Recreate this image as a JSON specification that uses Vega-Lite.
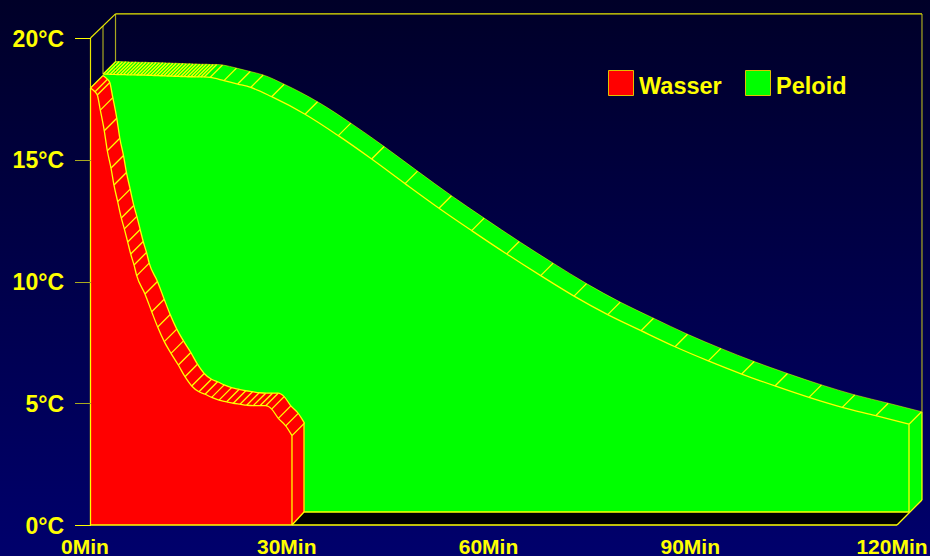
{
"$schema":"https://vega.github.io/schema/vega-lite/v6.json",
"width":930,"height":556,"padding":0,"autosize":{"type":"none"},
"background":"#000050",
"view":{"stroke":null,"fill":{"gradient":"linear","x1":0,"y1":0,"x2":0,"y2":1,"stops":[{"offset":0,"color":"#000028"},{"offset":1,"color":"#00006c"}]}},
"config":{"axis":{"labelFont":"Liberation Sans","labelFontWeight":"bold","labelFontSize":21,"labelColor":"#ffff00","grid":false,"title":null,"domain":false,"labelBound":false,"labelFlush":false,"labelOverlap":false}},
"datasets":{
"curves":[
{"series":"Wasser","minute":0,"temp":17.95},{"series":"Wasser","minute":0.67,"temp":17.79},{"series":"Wasser","minute":1.01,"temp":17.66},{"series":"Wasser","minute":1.46,"temp":17.04},{"series":"Wasser","minute":2.05,"temp":16.19},{"series":"Wasser","minute":2.5,"temp":15.37},{"series":"Wasser","minute":3.05,"temp":14.66},{"series":"Wasser","minute":3.49,"temp":13.96},{"series":"Wasser","minute":4.04,"temp":13.28},{"series":"Wasser","minute":4.58,"temp":12.61},{"series":"Wasser","minute":5.03,"temp":12.16},{"series":"Wasser","minute":5.53,"temp":11.62},{"series":"Wasser","minute":5.98,"temp":11.13},{"series":"Wasser","minute":6.47,"temp":10.68},{"series":"Wasser","minute":6.87,"temp":10.24},{"series":"Wasser","minute":8.1,"temp":9.49},{"series":"Wasser","minute":9.1,"temp":8.76},{"series":"Wasser","minute":9.99,"temp":8.13},{"series":"Wasser","minute":10.97,"temp":7.53},{"series":"Wasser","minute":11.97,"temp":7.05},{"series":"Wasser","minute":13.06,"temp":6.57},{"series":"Wasser","minute":14.05,"temp":6.09},{"series":"Wasser","minute":15.05,"temp":5.71},{"series":"Wasser","minute":16.13,"temp":5.47},{"series":"Wasser","minute":17.03,"temp":5.37},{"series":"Wasser","minute":18.02,"temp":5.24},{"series":"Wasser","minute":19.11,"temp":5.13},{"series":"Wasser","minute":20.25,"temp":5.06},{"series":"Wasser","minute":21.23,"temp":5.0},{"series":"Wasser","minute":22.23,"temp":4.96},{"series":"Wasser","minute":23.23,"temp":4.92},{"series":"Wasser","minute":24.2,"temp":4.9},{"series":"Wasser","minute":25.2,"temp":4.9},{"series":"Wasser","minute":26.05,"temp":4.9},{"series":"Wasser","minute":26.94,"temp":4.76},{"series":"Wasser","minute":27.93,"temp":4.38},{"series":"Wasser","minute":29.03,"temp":4.07},{"series":"Wasser","minute":29.96,"temp":3.67},
{"series":"Peloid","minute":1.9,"temp":18.52},{"series":"Peloid","minute":2.4,"temp":18.52},{"series":"Peloid","minute":2.9,"temp":18.51},{"series":"Peloid","minute":3.4,"temp":18.51},{"series":"Peloid","minute":3.9,"temp":18.5},{"series":"Peloid","minute":4.4,"temp":18.5},{"series":"Peloid","minute":4.9,"temp":18.5},{"series":"Peloid","minute":5.4,"temp":18.49},{"series":"Peloid","minute":5.9,"temp":18.49},{"series":"Peloid","minute":6.4,"temp":18.49},{"series":"Peloid","minute":6.9,"temp":18.48},{"series":"Peloid","minute":7.4,"temp":18.48},{"series":"Peloid","minute":7.9,"temp":18.48},{"series":"Peloid","minute":8.4,"temp":18.47},{"series":"Peloid","minute":8.9,"temp":18.47},{"series":"Peloid","minute":9.4,"temp":18.46},{"series":"Peloid","minute":9.9,"temp":18.46},{"series":"Peloid","minute":10.4,"temp":18.45},{"series":"Peloid","minute":10.9,"temp":18.45},{"series":"Peloid","minute":11.4,"temp":18.44},{"series":"Peloid","minute":11.9,"temp":18.44},{"series":"Peloid","minute":12.4,"temp":18.43},{"series":"Peloid","minute":12.9,"temp":18.43},{"series":"Peloid","minute":13.4,"temp":18.42},{"series":"Peloid","minute":13.9,"temp":18.42},{"series":"Peloid","minute":14.4,"temp":18.41},{"series":"Peloid","minute":14.9,"temp":18.41},{"series":"Peloid","minute":15.4,"temp":18.41},{"series":"Peloid","minute":15.9,"temp":18.4},{"series":"Peloid","minute":16.4,"temp":18.4},{"series":"Peloid","minute":16.9,"temp":18.4},{"series":"Peloid","minute":17.77,"temp":18.38},{"series":"Peloid","minute":19.85,"temp":18.25},{"series":"Peloid","minute":21.89,"temp":18.11},{"series":"Peloid","minute":23.82,"temp":17.97},{"series":"Peloid","minute":26.94,"temp":17.59},{"series":"Peloid","minute":31.9,"temp":16.87},{"series":"Peloid","minute":36.85,"temp":15.99},{"series":"Peloid","minute":41.81,"temp":15.03},{"series":"Peloid","minute":46.77,"temp":14.02},{"series":"Peloid","minute":51.82,"temp":13.01},{"series":"Peloid","minute":56.68,"temp":12.09},{"series":"Peloid","minute":61.89,"temp":11.13},{"series":"Peloid","minute":66.94,"temp":10.24},{"series":"Peloid","minute":71.9,"temp":9.4},{"series":"Peloid","minute":76.91,"temp":8.64},{"series":"Peloid","minute":81.86,"temp":7.98},{"series":"Peloid","minute":86.92,"temp":7.32},{"series":"Peloid","minute":91.87,"temp":6.74},{"series":"Peloid","minute":96.83,"temp":6.2},{"series":"Peloid","minute":101.78,"temp":5.71},{"series":"Peloid","minute":106.84,"temp":5.24},{"series":"Peloid","minute":111.79,"temp":4.83},{"series":"Peloid","minute":116.76,"temp":4.49},{"series":"Peloid","minute":121.71,"temp":4.14}
],
"faces":[
{"face":"pStart","series":"Peloid","minute":1.86,"temp":18.52,"floor":18.52},{"face":"pStart","series":"Peloid","minute":3.72,"temp":19.01,"floor":18.52},
{"face":"pSide","series":"Peloid","minute":121.71,"temp":4.14,"floor":0.534},{"face":"pSide","series":"Peloid","minute":123.64,"temp":4.65,"floor":1.03},
{"face":"wStart","series":"Wasser","minute":0,"temp":17.95,"floor":17.95},{"face":"wStart","series":"Wasser","minute":1.86,"temp":18.46,"floor":16},
{"face":"wSide","series":"Wasser","minute":29.96,"temp":3.67,"floor":0},{"face":"wSide","series":"Wasser","minute":31.75,"temp":4.18,"floor":0.534}
],
"floorBand":[
{"minute":29.96,"temp":0,"floor":0},{"minute":31.75,"temp":0.534,"floor":0},{"minute":119.93,"temp":0.534,"floor":0},{"minute":121.71,"temp":0.534,"floor":0.534}
]
},
"encoding":{
"x":{"field":"minute","type":"quantitative","scale":{"domain":[-13.457,124.833],"nice":false,"zero":false},"axis":{"orient":"bottom","offset":-31,"values":[0,30,60,90,120],"labelExpr":"datum.value+'Min'","ticks":false,"labelPadding":11,"labelOffset":-6,"labelAlign":"center","zindex":1}},
"y":{"field":"temp","type":"quantitative","scale":{"domain":[-1.273,21.561],"nice":false,"zero":false},"axis":{"orient":"left","offset":-90.5,"values":[0,5,10,15,20],"labelExpr":"datum.value+'°C'","labelFontSize":23,"labelOffset":1,"tickSize":16,"tickWidth":1,"tickColor":{"condition":{"test":"datum.value==0||datum.value==20","value":"#ffff00"},"value":"#a8a820"},"labelPadding":11,"zindex":1}}
},
"layer":[
{"data":{"values":[
{"minute":1.86,"temp":20.49,"minute2":1.86,"temp2":18.5},
{"minute":3.72,"temp":20.99,"minute2":3.72,"temp2":19.01},
{"minute":123.64,"temp":20.99,"minute2":123.64,"temp2":4.65}
]},"mark":{"type":"rule","color":"#a8a820","strokeWidth":1.2},"encoding":{"x2":{"field":"minute2"},"y2":{"field":"temp2"}}},
{"data":{"values":[
{"minute":0,"temp":20,"minute2":3.72,"temp2":20.99},
{"minute":3.72,"temp":20.99,"minute2":123.64,"temp2":20.99},
{"minute":0,"temp":20,"minute2":0,"temp2":17.95}
]},"mark":{"type":"rule","color":"#e8e800","strokeWidth":1.2},"encoding":{"x2":{"field":"minute2"},"y2":{"field":"temp2"}}},
{"data":{"name":"floorBand"},"mark":{"type":"area","color":"#000000"},"encoding":{"y2":{"field":"floor"}}},
{"data":{"name":"curves"},"transform":[{"filter":"datum.series=='Peloid'"}],"mark":{"type":"area","interpolate":"monotone","xOffset":12.5,"yOffset":-12.5},"encoding":{"color":{"field":"series","type":"nominal","scale":{"domain":["Wasser","Peloid"],"range":["#ff0000","#00ff00"]},"legend":{"orient":"none","legendX":608,"legendY":68,"direction":"horizontal","columns":2,"title":null,"symbolType":"square","symbolSize":625,"symbolStrokeColor":"#e0c000","symbolStrokeWidth":1,"symbolOpacity":1,"labelFont":"Liberation Sans","labelFontWeight":"bold","labelFontSize":23.5,"labelColor":"#ffff00","labelOffset":5,"columnPadding":23,"clipHeight":30,"encoding":{"labels":{"dy":{"value":3.5}}}}},"y2":{"datum":1.03}}},
{"data":{"name":"faces"},"transform":[{"filter":"datum.series=='Peloid'"}],"mark":{"type":"area"},"encoding":{"color":{"field":"series","type":"nominal"},"detail":{"field":"face"},"y2":{"field":"floor"}}},
{"data":{"name":"curves"},"transform":[{"filter":"datum.series=='Peloid'"}],"mark":{"type":"area","interpolate":"monotone"},"encoding":{"color":{"field":"series","type":"nominal"},"y2":{"datum":0.534}}},
{"data":{"name":"curves"},"transform":[{"filter":"datum.series=='Peloid'"}],"mark":{"type":"line","interpolate":"monotone","color":"#ffff00","strokeWidth":1,"opacity":0.5,"xOffset":12.5,"yOffset":-12.5}},
{"data":{"name":"curves"},"transform":[{"filter":"datum.series=='Peloid'"}],"mark":{"type":"line","interpolate":"monotone","color":"#ffff00","strokeWidth":1.3}},
{"data":{"name":"curves"},"transform":[{"filter":"datum.series=='Peloid'"}],"mark":{"type":"rule","color":"#ffff00","strokeWidth":1.3,"x2Offset":12.5,"y2Offset":-12.5},"encoding":{"x2":{"field":"minute"},"y2":{"field":"temp"}}},
{"data":{"name":"curves"},"transform":[{"filter":"datum.series=='Wasser'"}],"mark":{"type":"area","interpolate":"monotone","xOffset":12.5,"yOffset":-12.5},"encoding":{"color":{"field":"series","type":"nominal"},"y2":{"datum":0.534}}},
{"data":{"name":"faces"},"transform":[{"filter":"datum.series=='Wasser'"}],"mark":{"type":"area"},"encoding":{"color":{"field":"series","type":"nominal"},"detail":{"field":"face"},"y2":{"field":"floor"}}},
{"data":{"name":"curves"},"transform":[{"filter":"datum.series=='Wasser'"}],"mark":{"type":"area","interpolate":"monotone"},"encoding":{"color":{"field":"series","type":"nominal"},"y2":{"datum":0}}},
{"data":{"name":"curves"},"transform":[{"filter":"datum.series=='Wasser'"}],"mark":{"type":"line","interpolate":"monotone","color":"#ffff00","strokeWidth":1.3,"xOffset":12.5,"yOffset":-12.5}},
{"data":{"name":"curves"},"transform":[{"filter":"datum.series=='Wasser'"}],"mark":{"type":"line","interpolate":"monotone","color":"#ffff00","strokeWidth":1.3}},
{"data":{"name":"curves"},"transform":[{"filter":"datum.series=='Wasser'"}],"mark":{"type":"rule","color":"#ffff00","strokeWidth":1.3,"x2Offset":12.5,"y2Offset":-12.5},"encoding":{"x2":{"field":"minute"},"y2":{"field":"temp"}}},
{"data":{"values":[
{"minute":0,"temp":17.95,"minute2":0,"temp2":0},
{"minute":0,"temp":0,"minute2":119.93,"temp2":0},
{"minute":31.75,"temp":0.534,"minute2":121.71,"temp2":0.534},
{"minute":119.93,"temp":0,"minute2":123.64,"temp2":1.03},
{"minute":121.71,"temp":4.14,"minute2":121.71,"temp2":0.534},
{"minute":123.64,"temp":4.65,"minute2":123.64,"temp2":1.03},
{"minute":29.96,"temp":3.67,"minute2":29.96,"temp2":0},
{"minute":31.75,"temp":4.18,"minute2":31.75,"temp2":0.534},
{"minute":29.96,"temp":0,"minute2":31.75,"temp2":0.534}
]},"mark":{"type":"rule","color":"#ffff00","strokeWidth":1.3},"encoding":{"x2":{"field":"minute2"},"y2":{"field":"temp2"}}}
]
}
